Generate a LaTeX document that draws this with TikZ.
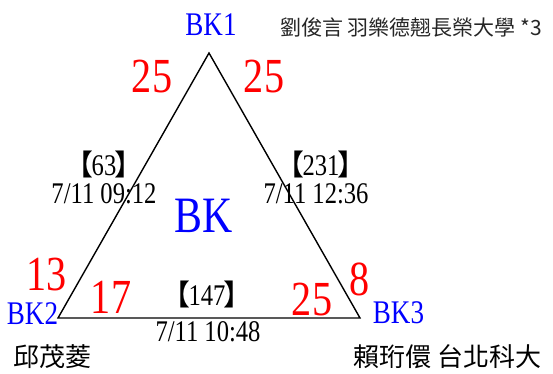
\documentclass[tikz,border=0pt]{standalone}
\usepackage{fontspec}
\setmainfont{Liberation Serif}
\newfontfamily\ming[FakeStretch=0.82]{Liberation Serif}
\newfontfamily\cjk{Noto Sans CJK TC}
\usetikzlibrary{positioning}

\newcommand{\cnt}[1]{{\cjk\fontsize{29}{29}\selectfont 【}\kern-1.5pt#1\kern-1.5pt{\cjk\fontsize{29}{29}\selectfont 】}}

\begin{document}
\begin{tikzpicture}[x=1pt,y=-1pt,
  vert/.style={text=blue,font=\ming\fontsize{33}{33}\selectfont,anchor=base,inner sep=0pt},
  wt/.style={text=red,font=\ming\fontsize{49}{49}\selectfont,anchor=base,inner sep=0pt},
  stamp/.style={font=\ming\fontsize{30}{30}\selectfont,anchor=base,inner sep=0pt},
  who/.style={font=\cjk\fontsize{26}{26}\selectfont,anchor=base west,inner sep=0pt},
  edge/.style={line width=1.4pt,line join=miter}]
\useasboundingbox (0,0) rectangle (553,374);
% corners of the triangle
\coordinate (p1) at (209,53);
\coordinate (p2) at (58,318);
\coordinate (p3) at (360,318);
\draw[edge] (p1) -- (p2) -- (p3) -- cycle;
% vertex names
\node[vert] (bk1) at (211,36) {BK1};
\node[vert] (bk2) at (32.5,324) {BK2};
\node[vert] (bk3) at (398.5,323) {BK3};
\node[text=blue,font=\ming\fontsize{51}{51}\selectfont,anchor=base,inner sep=0pt]
  (bk) at (203.5,232) {BK};
% weights at the corners
\node[wt] (w12) at (152,93) {25};
\node[wt] (w13) at (264,93) {25};
\node[wt] (w21) at (46.5,290) {13};
\node[wt] (w23) at (111,313) {17};
\node[wt] (w32) at (312,315) {25};
\node[wt] (w31) at (359.5,295) {8};
% counts and times on the edges
\node[stamp] (c12) at (104,175) {\cnt{63}};
\node[stamp] (t12) at (104,203) {7/11 09:12};
\node[stamp] (c13) at (321,175) {\cnt{231}};
\node[stamp] (t13) at (316,203) {7/11 12:36};
\node[stamp] (c23) at (207,305) {\cnt{147}};
\node[stamp] (t23) at (208,341) {7/11 10:48};
% names
\node[who,font=\cjk\fontsize{21}{21}\selectfont,text=black!85] (n1) at (280,36)
  {劉俊言 羽樂德翹長榮大學 *3};
\node[who] (n2) at (13,366) {邱茂菱};
\node[who] (n3) at (353,366) {賴珩儇 台北科大};
\end{tikzpicture}
\end{document}
